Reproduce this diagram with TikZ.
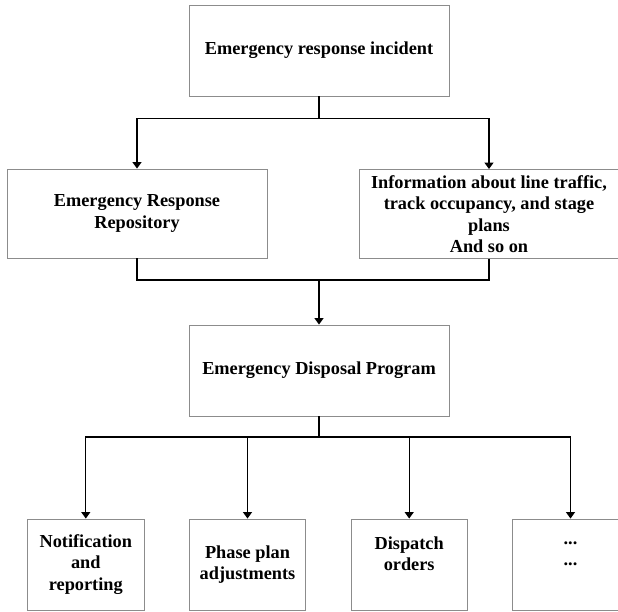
\documentclass[tikz,border=0pt]{standalone}
\usepackage{fontspec}
\setmainfont{Liberation Serif}
\usetikzlibrary{arrows.meta}
\tikzset{
  boxnode/.style={draw=black!45, line width=0.9pt, inner sep=0pt, align=center,
    font=\fontsize{18.3}{21.5}\selectfont\bfseries},
  bigbox/.style={boxnode, minimum width=260pt, minimum height=90pt},
  smallbox/.style={boxnode, minimum width=116.5pt, minimum height=91pt},
  conn/.style={line width=1.2pt, black},
  arr/.style={conn, -{Triangle[width=9pt,length=6.5pt]}}
}
\begin{document}
\begin{tikzpicture}[x=1pt,y=-1pt]
\clip (0,0) rectangle (618,611);
\fill[white] (0,0) rectangle (618,611);
\node[bigbox, minimum height=91pt] (top) at (319,50.5) {Emergency response incident};
\node[bigbox, minimum height=89pt] (rep) at (137,213.5) {Emergency Response\\Repository};
\node[bigbox, minimum height=89pt] (info) at (489,214) {Information about line traffic,\\track occupancy, and stage\\plans\\And so on};
\node[bigbox, minimum height=91pt] (mid) at (319,370.5) {Emergency Disposal Program};
\node[smallbox] (b1) at (85.8,564.5) {Notification\\and\\reporting};
\node[smallbox] (b2) at (247.5,564.5) {Phase plan\\adjustments};
\node[smallbox] (b3) at (409.2,564.5) {Dispatch\\orders\\\mbox{}};
\node[smallbox] (b4) at (570.5,564.5) {...\\...\\\mbox{}};
\coordinate (j1) at (319,118.7);
\coordinate (j2) at (319,280);
\coordinate (j3) at (319,437);
\draw[conn] (top.south) -- (j1);
\draw[arr] (j1) -| (rep.north);
\draw[arr] (j1) -| (info.north);
\draw[conn] (rep.south) |- (j2);
\draw[conn] (info.south) |- (j2);
\draw[arr] (j2) -- (mid.north);
\draw[conn] (mid.south) -- (j3);
\draw[arr] (j3) -| (b1.north);
\draw[arr] (j3) -| (b2.north);
\draw[arr] (j3) -| (b3.north);
\draw[arr] (j3) -| (b4.north);
\end{tikzpicture}
\end{document}
